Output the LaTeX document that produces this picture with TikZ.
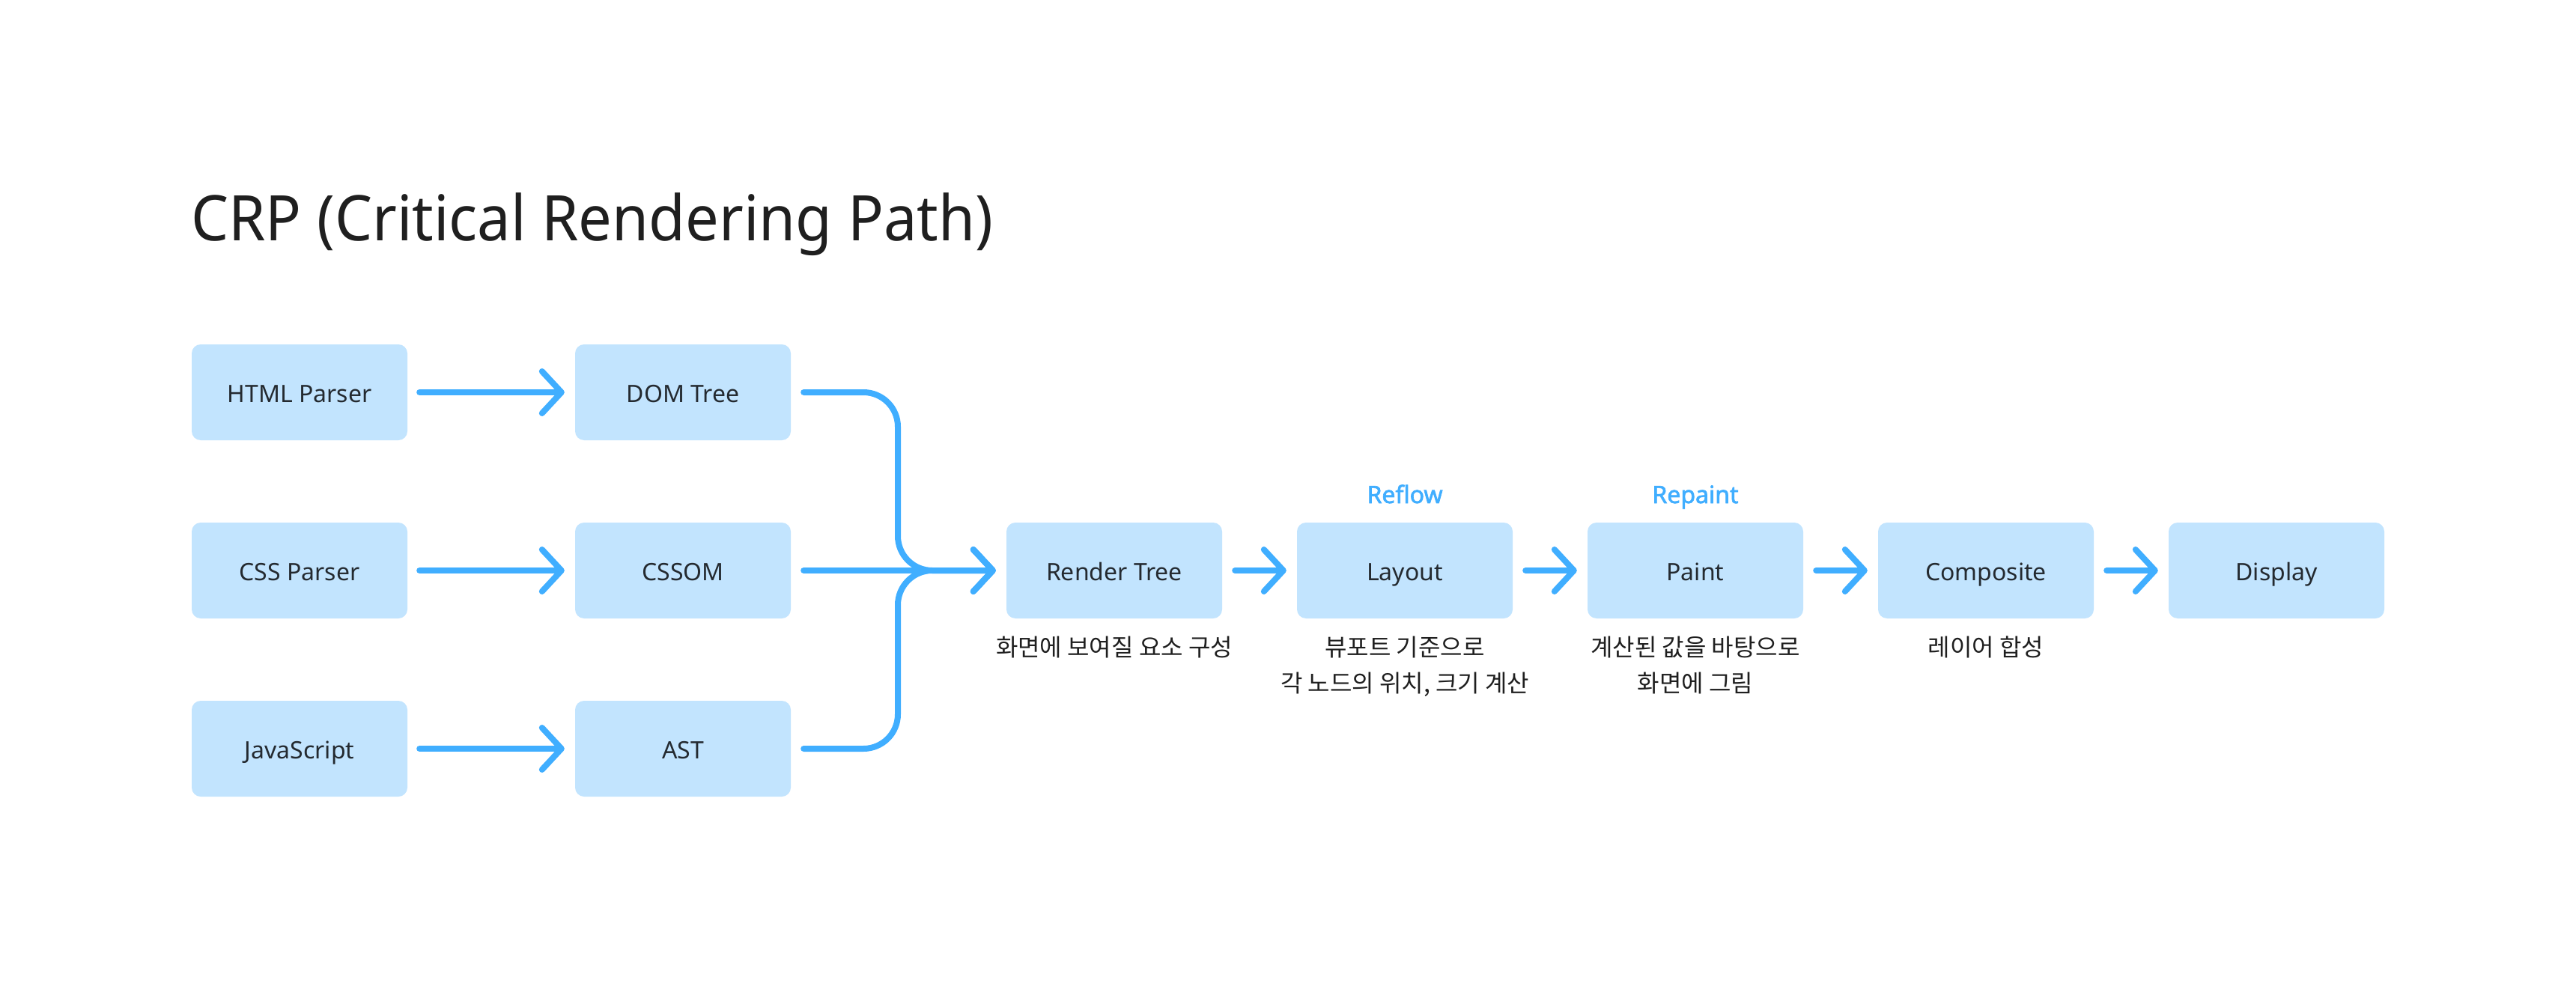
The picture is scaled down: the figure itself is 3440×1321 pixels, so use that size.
\documentclass[tikz,border=0pt]{standalone}
\usepackage{fontspec}
\setmainfont{Noto Sans}
\newfontfamily\krfont{Noto Sans CJK KR}
\newfontfamily\titlefont[FakeStretch=0.945]{Noto Sans}
\newfontfamily\phasefont[FakeBold=2]{Noto Sans}
\usetikzlibrary{arrows.meta}
\definecolor{boxfill}{HTML}{C2E4FE}
\definecolor{arrowblue}{HTML}{40AEFF}
\definecolor{boxtext}{HTML}{242A30}
\definecolor{titletext}{HTML}{1F1F1F}
\definecolor{desctext}{HTML}{1F1F1F}
\begin{document}
\begin{tikzpicture}[x=1pt,y=-1pt,
  stepbox/.style={fill=boxfill, rounded corners=12pt, minimum width=288pt, minimum height=128pt,
    inner sep=0pt, text=boxtext, font=\fontsize{32}{38}\selectfont, text height=26pt, text depth=0pt},
  flow/.style={draw=arrowblue, line width=8pt, line cap=round, line join=round,
    -{Straight Barb[length=26pt,width=56pt,round]}},
  desc/.style={anchor=base, inner sep=0pt, text=desctext, font=\krfont\fontsize{32}{48}\selectfont},
  phase/.style={anchor=base, inner sep=0pt, text=arrowblue, font=\phasefont\fontsize{32}{38}\selectfont},
]
\fill[white] (0,0) rectangle (3440,1321);
\useasboundingbox (0,0) rectangle (3440,1321);

\node[anchor=base west, inner sep=0pt, text=titletext, font=\titlefont\fontsize{84}{100}\selectfont] (title) at (255,322) {CRP (Critical Rendering Path)};

\node[stepbox] (html) at (400,524) {HTML Parser};
\node[stepbox] (css) at (400,762) {CSS Parser};
\node[stepbox] (js) at (400,1000) {JavaScript};
\node[stepbox] (dom) at (912,524) {DOM Tree};
\node[stepbox] (cssom) at (912,762) {CSSOM};
\node[stepbox] (ast) at (912,1000) {AST};
\node[stepbox] (render) at (1488,762) {Render Tree};
\node[stepbox] (layout) at (1876,762) {Layout};
\node[stepbox] (paint) at (2264,762) {Paint};
\node[stepbox] (comp) at (2652,762) {Composite};
\node[stepbox] (disp) at (3040,762) {Display};

\node[phase] (reflow) at (1876,672) {Reflow};
\node[phase] (repaint) at (2264,672) {Repaint};

\node[desc] (d1) at (1488,876) {화면에 보여질 요소 구성};
\node[desc] (d2a) at (1876,876) {뷰포트 기준으로};
\node[desc] (d2b) at (1876,924) {각 노드의 위치, 크기 계산};
\node[desc] (d3a) at (2264,876) {계산된 값을 바탕으로};
\node[desc] (d3b) at (2264,924) {화면에 그림};
\node[desc] (d4) at (2652,876) {레이어 합성};

\draw[flow] ([xshift=16pt]html.east) -- ([xshift=-14pt]dom.west);
\draw[flow] ([xshift=16pt]css.east) -- ([xshift=-14pt]cssom.west);
\draw[flow] ([xshift=16pt]js.east) -- ([xshift=-14pt]ast.west);

\coordinate (merge) at (1199,762);
\draw[flow, rounded corners=46pt] ([xshift=17pt]dom.east) -| (merge) -- ([xshift=-14pt]render.west);
\draw[flow, rounded corners=46pt] ([xshift=17pt]ast.east) -| (merge) -- ([xshift=-14pt]render.west);
\draw[flow] ([xshift=17pt]cssom.east) -- ([xshift=-14pt]render.west);

\draw[flow] ([xshift=17pt]render.east) -- ([xshift=-14pt]layout.west);
\draw[flow] ([xshift=17pt]layout.east) -- ([xshift=-14pt]paint.west);
\draw[flow] ([xshift=17pt]paint.east) -- ([xshift=-14pt]comp.west);
\draw[flow] ([xshift=17pt]comp.east) -- ([xshift=-14pt]disp.west);
\end{tikzpicture}
\end{document}
